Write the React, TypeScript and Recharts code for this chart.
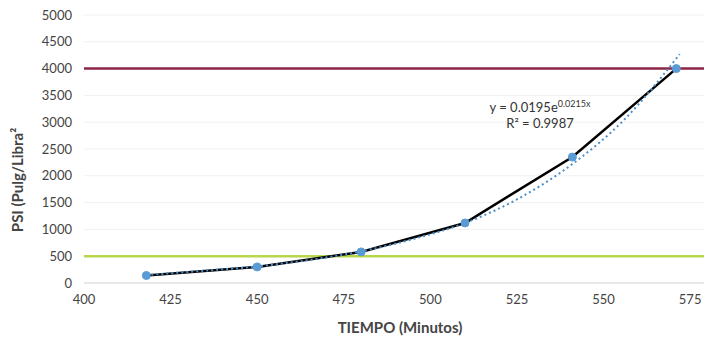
import { LineChart, Line, XAxis, YAxis, CartesianGrid, ReferenceLine } from 'recharts';

// measured points (tiempo in minutes, PSI)
const tiempo = [418, 450, 480, 510, 541, 571];
const psi = [140, 300, 580, 1120, 2350, 4000];

// exponential trend line
const trendX = [418, 435, 450, 465, 480, 495, 510, 525, 541, 556, 572];
const trendY = [150, 230, 310, 430, 590, 820, 1120, 1560, 2220, 3050, 4270];

const limits = [4000, 500];
const limitColors = ['#8c2446', '#b8d64a'];

const xTicks = [400, 425, 450, 475, 500, 525, 550, 575];
const yTicks = [0, 500, 1000, 1500, 2000, 2500, 3000, 3500, 4000, 4500, 5000];

const points = tiempo.map((x, i) => ({ x, y: psi[i] }));
const trend = trendX.map((x, i) => ({ x, y: trendY[i] }));

const font = 'Lato, "Open Sans", sans-serif';
const tickStyle = { fontSize: 13, fill: '#444', fontFamily: font };

export default function App() {
  return (
    <div style={{ position: 'absolute', left: 0, top: 0, background: '#fff' }}>
      <LineChart width={704} height={339} margin={{ top: 15, right: 0, bottom: 0, left: 0 }}>
        <CartesianGrid vertical={false} stroke="#f0f0f0" />
        <XAxis
          type="number"
          dataKey="x"
          domain={[400, 579]}
          ticks={xTicks}
          interval={0}
          allowDataOverflow
          tickSize={0}
          tickMargin={12}
          axisLine={{ stroke: '#d9d9d9' }}
          tick={tickStyle}
          height={56}
        />
        <YAxis
          type="number"
          dataKey="y"
          domain={[0, 5000]}
          ticks={yTicks}
          interval={0}
          width={84}
          tickSize={0}
          tickMargin={12}
          axisLine={false}
          tick={tickStyle}
        />
        {limits.map((v, i) => (
          <ReferenceLine key={v} y={v} stroke={limitColors[i]} strokeWidth={2.5} />
        ))}
        <Line
          data={points}
          dataKey="y"
          type="linear"
          stroke="#000"
          strokeWidth={2.5}
          dot={{ r: 4, fill: '#5b9bd5', stroke: '#5b9bd5', strokeWidth: 1 }}
          isAnimationActive={false}
        />
        <Line
          data={trend}
          dataKey="y"
          type="monotone"
          stroke="#4a8fc9"
          strokeWidth={2}
          strokeDasharray="2 3"
          dot={false}
          isAnimationActive={false}
        />
        <text x={540} y={112} textAnchor="middle" fontSize={13} fontFamily={font} fill="#333">
          y = 0.0195e
          <tspan fontSize={9} dy={-5}>0.0215x</tspan>
        </text>
        <text x={540} y={128} textAnchor="middle" fontSize={13} fontFamily={font} fill="#333">
          R² = 0.9987
        </text>
        <text x={400} y={333} textAnchor="middle" fontSize={15} fontWeight="bold" fontFamily={font} fill="#444">
          TIEMPO (Minutos)
        </text>
        <text
          x={23}
          y={180}
          textAnchor="middle"
          fontSize={15}
          fontWeight="bold"
          fontFamily={font}
          fill="#444"
          transform="rotate(-90 23 180)"
        >
          PSI (Pulg/Libra²
        </text>
      </LineChart>
    </div>
  );
}
